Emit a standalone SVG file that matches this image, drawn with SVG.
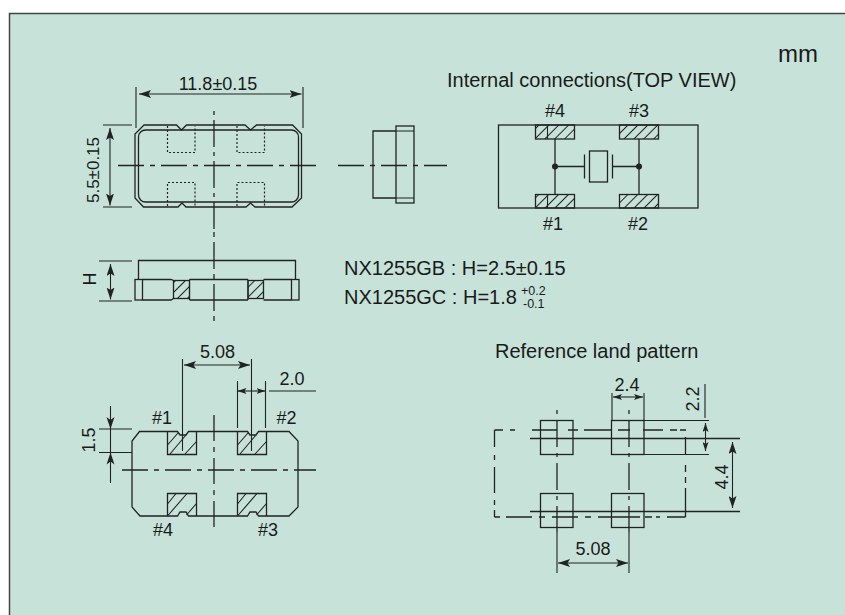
<svg xmlns="http://www.w3.org/2000/svg" width="845" height="615" viewBox="0 0 845 615">
<defs>
<pattern id="hatch" width="7" height="7" patternUnits="userSpaceOnUse" patternTransform="rotate(45)"><line x1="0.5" y1="0" x2="0.5" y2="7" stroke="#222" stroke-width="1"/></pattern>
<marker id="ah" viewBox="0 0 12 8" refX="12" refY="4" markerWidth="12" markerHeight="8" markerUnits="userSpaceOnUse" orient="auto-start-reverse"><path d="M0 0L12 4L0 8L2.500 4Z" fill="#222"/></marker>
<marker id="as" viewBox="0 0 9 6" refX="9" refY="3" markerWidth="9" markerHeight="6" markerUnits="userSpaceOnUse" orient="auto-start-reverse"><path d="M0 0L9 3L0 6L2 3Z" fill="#222"/></marker>
</defs>
<style>
text{font-family:"Liberation Sans",Arial,sans-serif;font-size:18px;fill:#1a1a1a}
.l{font-size:20px}
.s{fill:none;stroke:#222;stroke-width:1.3}
.t{fill:none;stroke:#222;stroke-width:1.1}
.d{fill:none;stroke:#222;stroke-width:1.2;stroke-dasharray:2 2}
.c{fill:none;stroke:#222;stroke-width:1.3;stroke-dasharray:26 6 5 6}
.h{fill:url(#hatch);stroke:#222;stroke-width:1.3}
.a{fill:none;stroke:#222;stroke-width:1.1;marker-start:url(#ah);marker-end:url(#ah)}
.b{fill:none;stroke:#222;stroke-width:1.1;marker-start:url(#as);marker-end:url(#as)}
.m{text-anchor:middle}
</style>
<rect width="845" height="615" fill="#ffffff"/>
<path d="M9.500 615V13.500H845V615Z" fill="#c7e3d9"/>
<path d="M9.500 615V13.500H845" fill="none" stroke="#444" stroke-width="1.5"/>
<text x="778" y="62" style="font-size:24px">mm</text>

<g id="top-view">
<path class="s" d="M144 125L135 134V198L143.500 207H178L182 203L186 207H246L250.500 203L255 207H292L301.500 198V134L292.500 125H256.500L250.500 130L245 125H186.500L181.500 130L176.500 125Z"/>
<rect class="s" x="138.500" y="130" width="160" height="72" rx="7"/>
<path class="d" d="M167.500 126V152.500H195V126M237 126V152.500H264.500V126M167.500 206V182.500H195V206M237 206V182.500H264.500V206"/>
<path class="c" d="M118 165.500H316"/>
<path class="c" d="M214 111V232" style="stroke-dasharray:4 5 27 5"/>
<path class="t" d="M136 87V128M303 87V128M103 125H132M103 207H132"/>
<path class="a" d="M139 94H301.500"/>
<path class="a" d="M110 128V205.500"/>
<text class="m" x="218" y="90">11.8±0.15</text>
<text class="m" transform="translate(99 170) rotate(-90)" style="font-size:17px">5.5±0.15</text>
</g>

<g id="side-view">
<path class="s" d="M396 131H373V198H396"/>
<rect class="s" x="396" y="126" width="18" height="77"/>
<path class="t" d="M396 131H414M396 198H414"/>
<path class="c" d="M338 165.500H447"/>
</g>

<g id="internal-connections">
<rect class="s" x="498.500" y="125" width="199.500" height="83"/>
<rect class="h" x="535.500" y="125" width="39" height="14"/>
<rect class="h" x="619.500" y="125" width="39" height="14"/>
<rect class="h" x="535.500" y="194.500" width="39" height="13.500"/>
<rect class="h" x="619.500" y="194.500" width="39" height="13.500"/>
<path class="t" d="M547.500 125V139M547.500 194.500V208"/>
<path class="s" d="M555 139V194M639 139V194M555 166.500H584.500M612.500 166.500H639M584.500 154.500V178.500M612.500 154.500V178.500"/>
<rect class="s" x="589.500" y="151" width="18" height="31"/>
<circle cx="555" cy="166.500" r="3" fill="#222"/>
<circle cx="639" cy="166.500" r="3" fill="#222"/>
<text class="m" x="555" y="117">#4</text>
<text class="m" x="639" y="117">#3</text>
<text class="m" x="553" y="230">#1</text>
<text class="m" x="638" y="230">#2</text>
<text class="l" x="447" y="87">Internal connections(TOP VIEW)</text>
</g>

<g id="front-view">
<path class="s" d="M138.500 279V260.500H295.500V279"/>
<rect class="s" x="135" y="279.500" width="7.500" height="20.500"/>
<rect class="s" x="291.500" y="279.500" width="7.500" height="20.500"/>
<path class="s" d="M142.500 279.500H171L173.500 280.500M142.500 300H171L173.500 298.500M189.500 279.500H248M189.500 300H248M263.500 279.500H291.500M263.500 300H291.500"/>
<rect class="h" x="173.500" y="280.500" width="16" height="18"/>
<rect class="h" x="248" y="280.500" width="15.500" height="18"/>
<path class="t" d="M189.500 279.500V300M248 279.500V300"/>
<path class="c" d="M214 232V322" style="stroke-dasharray:5 5 27 5"/>
<path class="t" d="M99 261H132M99 301H132"/>
<path class="a" d="M110.500 264V299.500"/>
<text class="m" transform="translate(96 279) rotate(-90)">H</text>
</g>

<g id="model-notes">
<text class="l" x="344" y="275">NX1255GB : H=2.5±0.15</text>
<text class="l" x="344" y="304">NX1255GC : H=1.8</text>
<text x="521" y="294.500" style="font-size:12.500px">+0.2</text>
<text x="523" y="307.500" style="font-size:12.500px">-0.1</text>
</g>

<g id="bottom-view">
<path class="s" d="M139.500 431.500L132 441V507L140 516H177.500L180 512H186L188.500 516H247.500L250 512H256L258.500 516H289L298 507V441L289 431.500H258.500L256 435H250L247.500 431.500H188.500L186 435H180L177.500 431.500Z"/>
<path class="s" d="M167.500 431.500V454.500H196.500V431.500M237.500 431.500V454.500H266.500V431.500M167.500 516V493.500H196.500V516M237.500 516V493.500H266.500V516"/>
<path class="t" d="M170 454L186 435M185 454L196.500 441.500M167.500 445L178 433M240 454L256 435M255 454L266.500 441.500M237.500 445L248 433"/>
<path class="t" d="M167.500 516L187 493.500M186.500 515L196.500 503.500M167.500 504L176 493.500M237.500 516L257 493.500M256.500 515L266.500 503.500M237.500 504L246 493.500"/>
<path class="c" d="M122 470H316"/>
<path class="c" d="M214 415V532"/>
<path class="t" d="M182.500 359V451M251.500 359V451M237.500 381V428M265.500 381V428M269 391H316M99 429H132M99 452.500H132"/>
<path class="a" d="M184 365H250"/>
<path class="b" d="M237.500 391H265.500"/>
<path class="t" d="M110.500 406V483"/>
<path d="M110.500 429L106.500 417L110.500 420L114.500 417ZM110.500 452.500L106.500 464.500L110.500 461.500L114.500 464.500Z" fill="#222"/>
<text class="m" x="217.500" y="358">5.08</text>
<text class="m" x="292" y="385">2.0</text>
<text class="m" x="162" y="424">#1</text>
<text class="m" x="286.500" y="424">#2</text>
<text class="m" x="163" y="536">#4</text>
<text class="m" x="268" y="536">#3</text>
<text class="m" transform="translate(95 440) rotate(-90)">1.5</text>
</g>

<g id="land-pattern">
<rect class="s" x="540.500" y="420.500" width="32.500" height="34"/>
<rect class="s" x="611.500" y="420.500" width="32.500" height="34"/>
<rect class="s" x="540.500" y="493.500" width="32.500" height="34"/>
<rect class="s" x="611.500" y="493.500" width="32.500" height="34"/>
<path class="s" d="M494.500 430H503M510 430H515M532 430H557M568 430H578M584 430H611M618 430H630M643 430H663M670 430H677M680 430H686"/>
<path class="s" d="M494.500 430V447M494.500 455V460M494.500 467V493M494.500 500V505M494.500 510V517"/>
<path class="s" d="M494.500 517H500M506 517H532M539 517H545M552 517H578M585 517H591M598 517H640M645 517H652M656 517H660M667 517H685.500"/>
<path class="s" d="M685.500 437V455M685.500 465V472M685.500 477V483M685.500 488V517"/>
<path class="s" d="M530 438.500H740M530 511.500H740"/>
<path class="c" d="M557 410V532" style="stroke-dasharray:4 6 27 6"/>
<path class="c" d="M629 410V532" style="stroke-dasharray:4 6 27 6"/>
<path class="t" d="M612 393V421M644 393V421M644 420.500H709M644 454.500H709M705 384V418M557 532V573M629 532V573"/>
<path class="b" d="M613 397H643"/>
<path class="b" d="M705.500 423V451"/>
<path class="a" d="M732.500 442V508"/>
<path class="a" d="M558 563H628"/>
<text class="m" x="627" y="391">2.4</text>
<text class="m" transform="translate(699 399) rotate(-90)">2.2</text>
<text class="m" transform="translate(728 477) rotate(-90)">4.4</text>
<text class="m" x="593" y="555">5.08</text>
<text class="l" x="495" y="358">Reference land pattern</text>
</g>
</svg>
